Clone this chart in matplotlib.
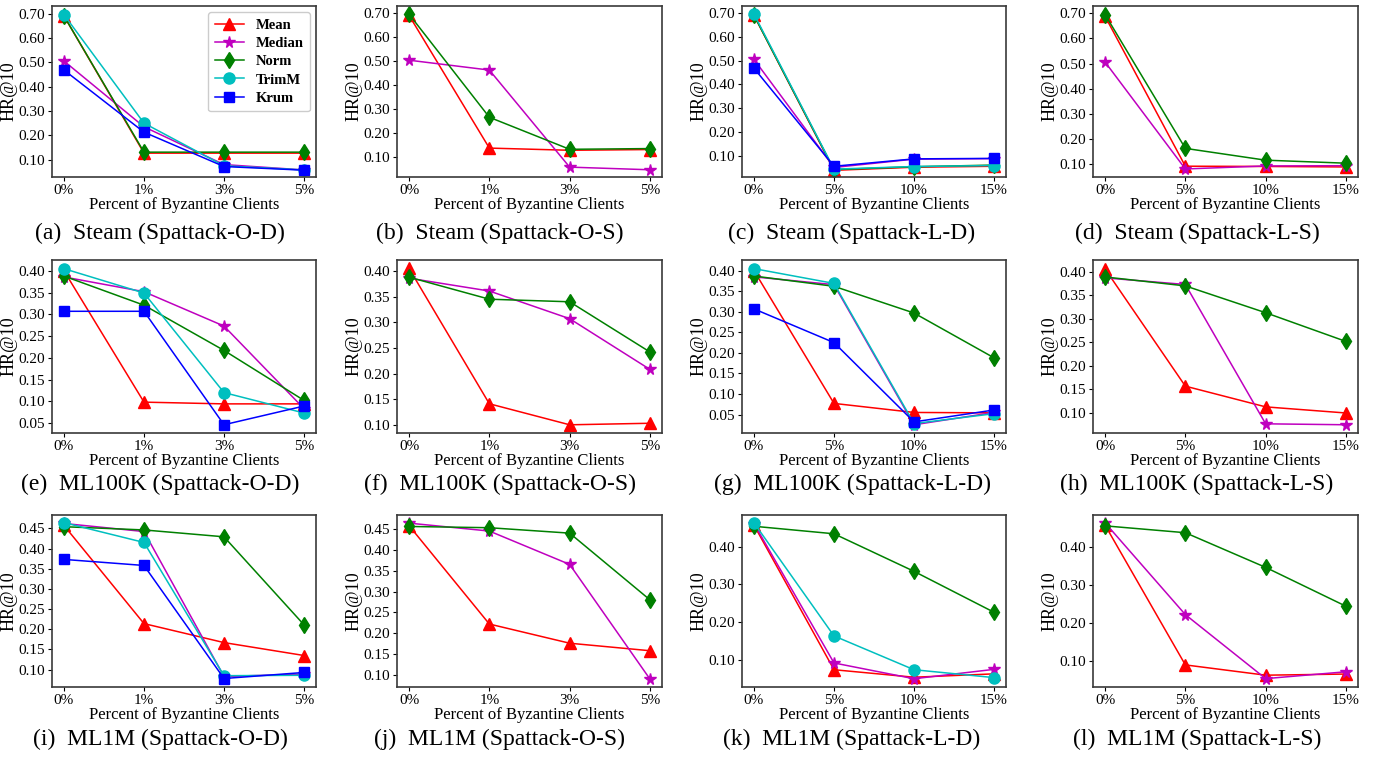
import matplotlib
matplotlib.use("Agg")
import matplotlib.pyplot as plt
from matplotlib.ticker import MultipleLocator, FormatStrFormatter

plt.rcParams["font.family"] = ["Liberation Serif", "DejaVu Serif"]

# x tick labels
x_small = ["0%", "1%", "3%", "5%"]
x_large = ["0%", "5%", "10%", "15%"]

# HR@10, one dict per panel
steam_od = {
    "Mean":   [0.690, 0.127, 0.127, 0.127],
    "Median": [0.505, 0.235, 0.080, 0.058],
    "Norm":   [0.690, 0.131, 0.131, 0.131],
    "TrimM":  [0.695, 0.250, 0.075, 0.058],
    "Krum":   [0.468, 0.213, 0.072, 0.057],
}
steam_os = {
    "Mean":   [0.690, 0.139, 0.130, 0.133],
    "Median": [0.504, 0.463, 0.060, 0.049],
    "Norm":   [0.695, 0.267, 0.134, 0.137],
}
steam_ld = {
    "Mean":   [0.690, 0.040, 0.053, 0.057],
    "Median": [0.505, 0.052, 0.087, 0.089],
    "Norm":   [0.690, 0.043, 0.055, 0.062],
    "TrimM":  [0.695, 0.045, 0.056, 0.060],
    "Krum":   [0.468, 0.057, 0.088, 0.090],
}
steam_ls = {
    "Mean":   [0.688, 0.091, 0.090, 0.088],
    "Median": [0.506, 0.080, 0.092, 0.093],
    "Norm":   [0.695, 0.162, 0.115, 0.103],
}
ml100k_od = {
    "Mean":   [0.400, 0.098, 0.094, 0.094],
    "Median": [0.386, 0.352, 0.273, 0.083],
    "Norm":   [0.388, 0.321, 0.217, 0.102],
    "TrimM":  [0.405, 0.349, 0.120, 0.073],
    "Krum":   [0.307, 0.307, 0.046, 0.089],
}
ml100k_os = {
    "Mean":   [0.405, 0.141, 0.100, 0.103],
    "Median": [0.386, 0.361, 0.307, 0.208],
    "Norm":   [0.388, 0.345, 0.340, 0.242],
}
ml100k_ld = {
    "Mean":   [0.400, 0.077, 0.055, 0.054],
    "Median": [0.385, 0.366, 0.025, 0.055],
    "Norm":   [0.387, 0.362, 0.297, 0.188],
    "TrimM":  [0.405, 0.369, 0.028, 0.052],
    "Krum":   [0.307, 0.225, 0.032, 0.061],
}
ml100k_ls = {
    "Mean":   [0.406, 0.157, 0.113, 0.100],
    "Median": [0.387, 0.373, 0.077, 0.075],
    "Norm":   [0.389, 0.370, 0.313, 0.252],
}
ml1m_od = {
    "Mean":   [0.457, 0.214, 0.167, 0.135],
    "Median": [0.462, 0.442, 0.083, 0.089],
    "Norm":   [0.454, 0.446, 0.429, 0.211],
    "TrimM":  [0.464, 0.415, 0.085, 0.086],
    "Krum":   [0.373, 0.358, 0.078, 0.093],
}
ml1m_os = {
    "Mean":   [0.458, 0.222, 0.176, 0.158],
    "Median": [0.464, 0.445, 0.365, 0.090],
    "Norm":   [0.456, 0.453, 0.440, 0.280],
}
ml1m_ld = {
    "Mean":   [0.458, 0.073, 0.053, 0.062],
    "Median": [0.462, 0.091, 0.049, 0.074],
    "Norm":   [0.455, 0.435, 0.335, 0.226],
    "TrimM":  [0.464, 0.163, 0.073, 0.052],
}
ml1m_ls = {
    "Mean":   [0.457, 0.090, 0.063, 0.066],
    "Median": [0.463, 0.222, 0.054, 0.072],
    "Norm":   [0.455, 0.437, 0.346, 0.244],
}

captions = [
    "(a)  Steam (Spattack-O-D)", "(b)  Steam (Spattack-O-S)",
    "(c)  Steam (Spattack-L-D)", "(d)  Steam (Spattack-L-S)",
    "(e)  ML100K (Spattack-O-D)", "(f)  ML100K (Spattack-O-S)",
    "(g)  ML100K (Spattack-L-D)", "(h)  ML100K (Spattack-L-S)",
    "(i)  ML1M (Spattack-O-D)", "(j)  ML1M (Spattack-O-S)",
    "(k)  ML1M (Spattack-L-D)", "(l)  ML1M (Spattack-L-S)",
]
panels = [steam_od, steam_os, steam_ld, steam_ls,
          ml100k_od, ml100k_os, ml100k_ld, ml100k_ls,
          ml1m_od, ml1m_os, ml1m_ld, ml1m_ls]
xlabels = [x_small, x_small, x_large, x_large] * 3
ylims = [(0.029, 0.731), (0.019, 0.729), (0.012, 0.729), (0.048, 0.729),
         (0.027, 0.425), (0.084, 0.4215), (0.005, 0.426), (0.0575, 0.425),
         (0.057, 0.483), (0.071, 0.4835), (0.027, 0.485), (0.032, 0.4835)]
ysteps = [0.10] * 4 + [0.05] * 6 + [0.10] * 2

styles = {
    "Mean":   dict(color="red", marker="^", ms=8),
    "Median": dict(color="m", marker="*", ms=8.5),
    "Norm":   dict(color="green", marker="d", ms=8.5),
    "TrimM":  dict(color="c", marker="o", ms=8),
    "Krum":   dict(color="blue", marker="s", ms=7.5),
}

W, H = 1377, 760
fig = plt.figure(figsize=(W / 100, H / 100), dpi=100)

col_left = [52, 397, 742, 1093]
col_right = [316, 662, 1006, 1358]
row_top = [6, 260, 515]
row_bot = [177, 433, 687]
cap_x = [160, 500, 852, 1197]
cap_y = [233, 484, 739]

for i, data in enumerate(panels):
    r, c = divmod(i, 4)
    ax = fig.add_axes([col_left[c] / W, 1 - row_bot[r] / H,
                       (col_right[c] - col_left[c]) / W,
                       (row_bot[r] - row_top[r]) / H])
    xs = range(len(xlabels[i]))
    for name, vals in data.items():
        ax.plot(xs, vals, label=name, linewidth=1.1, **styles[name])
    ax.set_xticks(list(xs))
    ax.set_xticklabels(xlabels[i])
    ax.set_ylim(*ylims[i])
    ax.yaxis.set_major_locator(MultipleLocator(ysteps[i]))
    ax.yaxis.set_major_formatter(FormatStrFormatter("%.2f"))
    ax.tick_params(labelsize=11, length=3, width=0.8, pad=2)
    ax.set_xlabel("Percent of Byzantine Clients", fontsize=12, labelpad=0)
    ax.set_ylabel("HR@10", fontsize=13, labelpad=1)
    for sp in ax.spines.values():
        sp.set_color("#3a3a3a")
        sp.set_linewidth(1.2)
    if i == 0:
        ax.legend(loc="upper right", prop={"weight": "bold", "size": 10.5},
                  handlelength=2.0, borderpad=0.45, labelspacing=0.35,
                  framealpha=1.0, fancybox=True, borderaxespad=0.4)
    fig.text(cap_x[c] / W, 1 - cap_y[r] / H, captions[i], fontsize=17,
             ha="center", va="center")

fig.savefig("out.png", dpi=100)
